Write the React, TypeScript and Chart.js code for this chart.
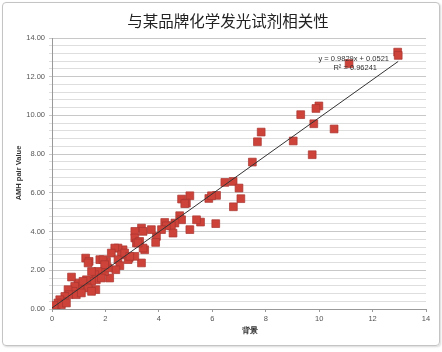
import React, { useEffect, useRef } from "react";
import { Chart, registerables } from "chart.js";

Chart.register(...registerables);

const titleText = "与某品牌化学发光试剂相关性";
const xTitle = "背景";
const yTitle = "AMH pair Value";
const eqText = "y = 0.9829x + 0.0521";
const r2Text = "R² = 0.96241";
const slope = 0.9829;
const intercept = 0.0521;

const xs = [
  12.94, 12.96, 11.12, 9.99, 9.88, 9.31, 9.8, 10.56, 9.03, 9.74,
  7.83, 7.69, 7.5, 6.47, 6.78, 7.0, 7.07, 6.79, 6.16, 5.87,
  5.97, 6.13, 5.56, 5.41, 4.85, 5.16, 5.03, 4.78, 4.85, 4.6,
  5.16, 4.47, 4.53, 4.22, 4.28, 4.1, 3.91, 3.88, 3.72, 3.35,
  3.41, 3.1, 3.1, 3.16, 3.28, 3.47, 3.41, 3.35, 3.1, 2.88,
  2.66, 2.47, 2.35, 2.22, 2.6, 2.47, 2.54, 2.39, 2.16, 1.97,
  2.1, 1.79, 2.04, 1.91, 1.97, 1.72, 1.6, 1.66, 1.85, 1.64,
  1.48, 1.48, 1.26, 1.39, 1.29, 1.16, 1.35, 1.04, 0.97, 0.85,
  0.73, 0.79, 0.6, 0.64, 0.48, 0.41, 0.29, 0.22, 0.16, 0.04,
  0.0, 0.35, 0.54, 0.91, 1.1, 1.48, 1.16, 2.85, 2.72, 2.91,
  3.22, 4.97, 1.35, 0.1, 0.07,
];
const ys = [
  13.27, 13.1, 12.68, 10.49, 10.36, 10.04, 9.57, 9.3, 8.68, 7.97,
  9.14, 8.64, 7.59, 6.54, 6.59, 6.25, 5.7, 5.28, 5.87, 5.71,
  5.85, 4.41, 4.49, 4.61, 5.68, 5.85, 5.47, 4.82, 4.61, 4.44,
  4.1, 4.3, 3.92, 4.47, 4.3, 4.1, 3.75, 3.44, 4.1, 4.18,
  4.01, 4.01, 3.67, 3.41, 3.49, 3.06, 3.15, 2.38, 2.72, 2.63,
  3.06, 3.15, 3.15, 2.89, 2.8, 2.55, 2.24, 2.03, 1.6, 1.94,
  2.12, 2.55, 2.46, 2.55, 2.29, 1.94, 1.77, 1.51, 1.6, 1.0,
  1.43, 1.94, 2.63, 2.46, 1.51, 1.17, 1.08, 1.0, 1.34, 1.17,
  1.65, 0.91, 1.0, 0.74, 0.65, 0.39, 0.48, 0.31, 0.13, 0.1,
  0.05, 0.22, 0.31, 0.74, 0.83, 0.91, 1.43, 2.55, 2.89, 2.72,
  3.41, 5.44, 2.38, 0.02, 0.18,
];

const isMajor = (v: number) => Math.abs(v / 2 - Math.round(v / 2)) < 1e-6;

export default function App() {
  const ref = useRef<HTMLCanvasElement | null>(null);
  useEffect(() => {
    document.body.style.margin = "0";
    const canvas = ref.current;
    if (!canvas) return;
    const pts = xs.map((x, i) => ({ x, y: ys[i] }));
    const xmin = Math.min(...xs);
    const xmax = Math.max(...xs);
    const trend = [
      { x: xmin, y: slope * xmin + intercept },
      { x: xmax, y: slope * xmax + intercept },
    ];
    const textPlugin = {
      id: "texts",
      afterDraw(chart: any) {
        const ctx = chart.ctx;
        ctx.save();
        ctx.fillStyle = "#222";
        ctx.font = '15.5px "Noto Sans CJK SC"';
        ctx.textAlign = "center";
        ctx.textBaseline = "middle";
        ctx.fillText(titleText, 228, 21);
        ctx.fillStyle = "#333";
        ctx.font = 'bold 7.5px "Liberation Sans"';
        ctx.fillText(xTitle, 250, 331);
        ctx.save();
        ctx.translate(19, 173);
        ctx.rotate(-Math.PI / 2);
        ctx.fillText(yTitle, 0, 0);
        ctx.restore();
        ctx.font = '7.5px "Liberation Sans"';
        ctx.fillStyle = "#333";
        ctx.textAlign = "right";
        ctx.fillText(eqText, 389, 58.5);
        ctx.fillText(r2Text, 377, 67.5);
        ctx.restore();
      },
    };
    const chart = new Chart(canvas, {
      type: "scatter",
      data: {
        datasets: [
          {
            type: "line",
            data: trend,
            borderColor: "#333",
            borderWidth: 1,
            pointRadius: 0,
            fill: false,
            order: 0,
          } as any,
          {
            data: pts,
            pointStyle: "rect",
            pointRadius: 5.5,
            backgroundColor: "#cd4339",
            borderColor: "#a93530",
            borderWidth: 0.7,
            order: 1,
          },
        ],
      },
      options: {
        animation: false,
        responsive: false,
        events: [],
        layout: { padding: { left: 0, top: 38, right: 16, bottom: 0 } },
        plugins: { legend: { display: false }, tooltip: { enabled: false } },
        scales: {
          x: {
            type: "linear",
            min: 0,
            max: 14,
            ticks: {
              stepSize: 2,
              color: "#555",
              font: { family: "Liberation Sans", size: 7.5 },
              padding: 2,
            },
            grid: { drawOnChartArea: false, drawTicks: true, tickLength: 3, color: "#999" },
            border: { color: "#999" },
            afterFit: (s: any) => {
              s.height = 43;
            },
          },
          y: {
            type: "linear",
            min: 0,
            max: 14,
            ticks: {
              stepSize: 0.4,
              autoSkip: false,
              color: "#555",
              font: { family: "Liberation Sans", size: 7.5 },
              padding: 4,
              callback: (v: any) => (isMajor(Number(v)) ? Number(v).toFixed(2) : ""),
            },
            grid: {
              color: (c: any) => (isMajor(c.tick?.value ?? 0) ? "#c8c8c8" : "#dedede"),
              drawTicks: true,
              tickLength: 3,
            },
            border: { color: "#999" },
            afterFit: (s: any) => {
              s.width = 52;
            },
          },
        },
      },
      plugins: [textPlugin],
    });
    return () => chart.destroy();
  }, []);
  return (
    <div style={{ position: "relative", width: 442, height: 352, background: "#fff" }}>
      <div
        style={{
          position: "absolute",
          left: 2,
          top: 2,
          width: 436,
          height: 342,
          border: "1px solid #c4c4c4",
          borderRadius: 4,
          boxShadow: "1px 1px 2px rgba(0,0,0,0.15)",
        }}
      />
      <canvas ref={ref} width={442} height={352} style={{ position: "absolute", left: 0, top: 0 }} />
    </div>
  );
}
